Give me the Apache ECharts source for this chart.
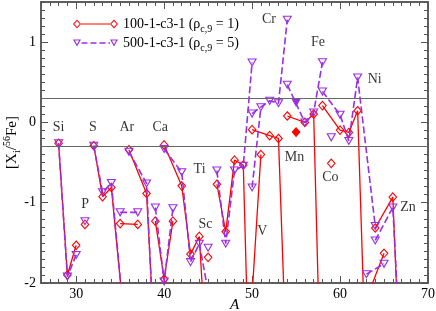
<!DOCTYPE html>
<html><head><meta charset="utf-8">
<script src="https://cdn.jsdelivr.net/npm/echarts@6/dist/echarts.min.js"></script>
<style>html,body{margin:0;padding:0;background:#fff}#chart{width:436px;height:311px}</style>
</head><body><div id="chart"></div>
<script>
// ---- data ----
const massNumbers = [
  28, 29, 30,
  31,
  32, 33, 34, 36,
  35, 37,
  36, 38, 40,
  39, 40, 41,
  40, 42, 43, 44, 46,
  45,
  46, 47, 48, 49, 50,
  50, 51,
  50, 52, 53, 54,
  55,
  54, 56, 57, 58,
  59,
  58, 60, 61, 62, 64,
  63, 65,
  64, 66, 67
];
const elementNames = [
  'Si','Si','Si',
  'P',
  'S','S','S','S',
  'Cl','Cl',
  'Ar','Ar','Ar',
  'K','K','K',
  'Ca','Ca','Ca','Ca','Ca',
  'Sc',
  'Ti','Ti','Ti','Ti','Ti',
  'V','V',
  'Cr','Cr','Cr','Cr',
  'Mn',
  'Fe','Fe','Fe','Fe',
  'Co',
  'Ni','Ni','Ni','Ni','Ni',
  'Cu','Cu',
  'Zn','Zn','Zn'
];
// model 100-1-c3-1 (rho_c,9 = 1)
const rho1Values = [
  -0.26, -1.90, -1.53,
  -1.27,
  -0.29, -0.925, -0.81, -3.1,
  -1.26, -1.27,
  -0.34, -0.885, -5.0,
  -1.23, -1.95, -1.23,
  -0.28, -0.79, -1.64, -1.42, -5.2,
  -1.68,
  -0.77, -1.36, -0.47, -0.53, -4.6,
  -2.15, -0.40,
  -0.09, -0.165, -0.20, -3.3,
  -0.12,
  0.08, 0.0, 0.105, -4.1,
  -0.51,
  0.21, -0.095, -0.125, 0.145, -6.7,
  -2.2, -1.63,
  -1.315, -0.93, -3.6
];
// model 500-1-c3-1 (rho_c,9 = 5)
const rho5Values = [
  -0.26, -1.92, -1.65,
  -1.23,
  -0.29, -0.87, -0.755, -3.1,
  -1.12, -1.12,
  -0.365, -0.76, -5.4,
  -1.06, -1.98, -1.07,
  -0.33, -0.62, -1.74, -1.51, -2.7,
  -1.56,
  -0.60, -1.51, -0.60, -0.54, 0.747,
  -0.81, 0.19,
  0.11, 0.27, 0.24, 1.28,
  0.25,
  0.47, 0.0, 0.125, 0.75,
  -0.185,
  0.385, 0.095, -0.23, 0.56, -1.29,
  -1.89, -1.76,
  -1.47, -1.06, -3.15
];
const filledElements = ['Mn'];
const seriesNames = ['100-1-c3-1', '500-1-c3-1'];
const rhoLabels = ['1', '5'];
const referenceLevels = [0.3, -0.3];
const xTickValues = [30, 40, 50, 60, 70];
const yTickValues = [-2, -1, 0, 1];
const labelNames = ['Si','S','Ar','Ca','P','Ti','Sc','V','Mn','Co','Zn','Cr','Fe','Ni'];
const labelMass  = [27.99, 31.89, 35.76, 39.56, 31.02, 44.03, 44.71, 51.16, 54.83, 58.9, 67.73, 51.91, 57.49, 63.94];
const labelLevel = [-0.06, -0.06, -0.06, -0.06, -1.02, -0.58, -1.27, -1.36, -0.44, -0.69, -1.06, 1.29, 1.0, 0.54];

// ---- styles ----
const RED = '#ff0000';
const PURPLE = '#9a2ee6';
const AXIS = '#555';
const SERIF = 'Liberation Serif';

function buildSeriesData(values, fillColor) {
  const out = [];
  for (let i = 0; i < massNumbers.length; i++) {
    if (i > 0 && elementNames[i] !== elementNames[i - 1]) out.push([massNumbers[i], '-']);
    const item = { value: [massNumbers[i], values[i]] };
    if (filledElements.indexOf(elementNames[i]) >= 0) item.itemStyle = { color: fillColor };
    out.push(item);
  }
  return out;
}

const redIcon = 'path://M4.5,0.5L8.5,5L4.5,9.5L0.5,5ZM4.5,1.9L1.75,5L4.5,8.1L7.25,5Z' +
  'M8.5,4.4L37.5,4.4L37.5,5.6L8.5,5.6Z' +
  'M41.5,0.5L45.5,5L41.5,9.5L37.5,5ZM41.5,1.9L38.75,5L41.5,8.1L44.25,5Z';
const purpleIcon = 'path://M0.5,1.5L8.5,1.5L4.5,8.5ZM2.4,2.6L4.5,6.28L6.6,2.6Z' +
  'M9,4.2L15,4.2L15,5.8L9,5.8Z' +
  'M18,4.2L24,4.2L24,5.8L18,5.8Z' +
  'M27,4.2L33,4.2L33,5.8L27,5.8Z' +
  'M36,4.2L37.5,4.2L37.5,5.8L36,5.8Z' +
  'M37.5,1.5L45.5,1.5L41.5,8.5ZM39.4,2.6L41.5,6.28L43.6,2.6Z';

const lineAxis = { show: true, onZero: false, lineStyle: { color: AXIS, width: 1.5 } };
function xAxisDef(pos, major) {
  const a = {
    type: 'value', min: 26, max: 70, position: pos,
    axisLine: lineAxis,
    splitLine: { show: false },
    axisTick: { show: true, inside: true, length: major ? 7 : 4, lineStyle: { color: AXIS, width: 1 } },
    axisLabel: { show: false }
  };
  if (major) {
    a.axisTick.customValues = xTickValues;
    a.axisLabel = { show: pos === 'bottom', customValues: xTickValues, margin: 4,
      fontFamily: SERIF, fontSize: 14, color: '#000' };
    if (pos === 'bottom') {
      a.name = 'A'; a.nameLocation = 'middle'; a.nameGap = 15; a.nameMoveOverlap = false;
      a.nameTextStyle = { fontFamily: SERIF, fontSize: 15, fontStyle: 'italic', color: '#000' };
    }
  } else {
    a.interval = 1;
  }
  return a;
}
function yAxisDef(pos, major) {
  const a = {
    type: 'value', min: -2, max: 1.5, position: pos,
    axisLine: lineAxis,
    splitLine: { show: false },
    axisTick: { show: true, inside: true, length: major ? 7 : 4, lineStyle: { color: AXIS, width: 1 } },
    axisLabel: { show: false }
  };
  if (major) {
    a.axisTick.customValues = yTickValues;
    a.axisLabel = { show: pos === 'left', customValues: yTickValues, margin: 5,
      fontFamily: SERIF, fontSize: 14, color: '#000' };
    if (pos === 'left') {
      a.name = '[X{sub|i}/{sup|56}Fe]';
      a.nameLocation = 'middle'; a.nameRotate = 90; a.nameGap = 19; a.nameMoveOverlap = false;
      a.nameTextStyle = { fontFamily: SERIF, fontSize: 15, color: '#000', lineHeight: 20,
        rich: {
          sub: { fontFamily: SERIF, fontSize: 10, lineHeight: 20, verticalAlign: 'bottom', color: '#000' },
          sup: { fontFamily: SERIF, fontSize: 10, lineHeight: 20, verticalAlign: 'top', color: '#000' }
        } };
    }
  } else {
    a.interval = 0.1;
  }
  return a;
}

const chart = echarts.init(document.getElementById('chart'), null, { renderer: 'canvas' });
chart.setOption({
  animation: false,
  backgroundColor: '#fff',
  grid: { left: 41, right: 8, top: 2, bottom: 28, containLabel: false, outerBoundsMode: 'none' },
  xAxis: [xAxisDef('bottom', false), xAxisDef('bottom', true), xAxisDef('top', false), xAxisDef('top', true)],
  yAxis: [yAxisDef('left', false), yAxisDef('left', true), yAxisDef('right', false), yAxisDef('right', true)],
  legend: {
    orient: 'vertical', left: 68, top: 12, itemWidth: 45, itemHeight: 9, itemGap: 2,
    textStyle: { fontFamily: SERIF, fontSize: 14, color: '#000',
      rich: { sub: { fontFamily: SERIF, fontSize: 10, lineHeight: 20, verticalAlign: 'bottom', color: '#000' } } },
    formatter: function (name) {
      const i = seriesNames.indexOf(name);
      return name + ' (\u03c1{sub|c,9} = ' + rhoLabels[i] + ')';
    },
    data: [
      { name: seriesNames[0], icon: redIcon, itemStyle: { color: RED, borderWidth: 0 } },
      { name: seriesNames[1], icon: purpleIcon, itemStyle: { color: PURPLE, borderWidth: 0 } }
    ]
  },
  series: [
    {
      name: seriesNames[0], type: 'line', xAxisIndex: 0, yAxisIndex: 0,
      data: buildSeriesData(rho1Values, RED), connectNulls: false, clip: true,
      symbol: 'diamond', symbolSize: [7.5, 8.5], showAllSymbol: true,
      lineStyle: { color: RED, width: 1.3 },
      itemStyle: { color: 'rgba(255,255,255,0)', borderColor: RED, borderWidth: 1.1 },
      markLine: {
        silent: true, symbol: 'none', label: { show: false },
        lineStyle: { color: '#666', width: 1, type: 'solid' },
        data: referenceLevels.map(v => ({ yAxis: v }))
      },
      z: 3
    },
    {
      name: seriesNames[1], type: 'line', xAxisIndex: 0, yAxisIndex: 0,
      data: buildSeriesData(rho5Values, PURPLE), connectNulls: false, clip: true,
      symbol: 'path://M0,0L10,0L5,8.75Z', symbolSize: [8, 7], showAllSymbol: true,
      lineStyle: { color: PURPLE, width: 1.6, type: [7, 3] },
      itemStyle: { color: 'rgba(255,255,255,0)', borderColor: PURPLE, borderWidth: 1.1 },
      z: 4
    },
    {
      name: 'labels', type: 'scatter', xAxisIndex: 0, yAxisIndex: 0, silent: true,
      symbolSize: 1, itemStyle: { color: 'rgba(0,0,0,0)' },
      label: { show: true, position: 'inside', formatter: p => p.name,
        fontFamily: SERIF, fontSize: 14, color: '#000' },
      data: labelNames.map((n, i) => ({ name: n, value: [labelMass[i], labelLevel[i]] })),
      z: 5
    }
  ]
});
</script></body></html>
